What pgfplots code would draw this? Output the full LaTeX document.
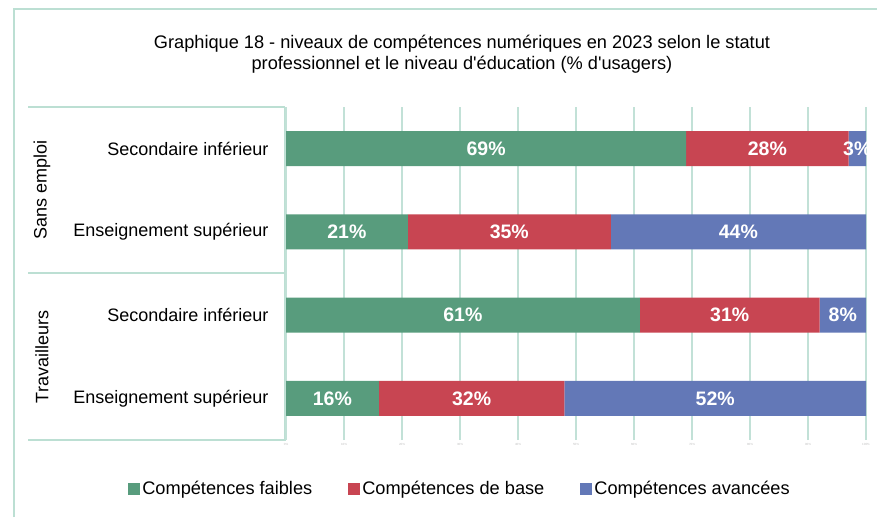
\documentclass[border=0pt]{standalone}
\usepackage{fontspec}
\setmainfont{Liberation Sans}[Ligatures=TeXOff]
\usepackage{pgfplots}
\pgfplotsset{compat=1.18}
\usepackage{pgfplotstable}

\definecolor{cfaible}{HTML}{589C7D}
\definecolor{cbase}{HTML}{C84552}
\definecolor{cavance}{HTML}{6378B7}
\definecolor{frame}{HTML}{BCDFD3}
\definecolor{gridc}{HTML}{C2E1D7}

% y: 3 = top row
\pgfplotstableread{
y faible base avance
3 69 28 3
2 21 35 44
1 61 31 8
0 16 32 52
}\competences

\begin{document}
\begin{tikzpicture}
\path[use as bounding box] (0,0) rectangle (877pt,517pt);

% outer frame (top and left visible)
\draw[frame, line width=2pt] (14pt,0pt) -- (14pt,508pt) -- (877pt,508pt);

% title
\node[align=center, font=\fontsize{18.2}{21}\selectfont] at (462pt,463pt)
  {Graphique 18 - niveaux de compétences numériques en 2023 selon le statut\\
   professionnel et le niveau d'éducation (\% d'usagers)};

% category table lines
\draw[frame, line width=1.5pt] (28pt,410pt) -- (285pt,410pt);
\draw[frame, line width=1.5pt] (28pt,244pt) -- (285pt,244pt);
\draw[frame, line width=1.5pt] (28pt,77pt) -- (285pt,77pt) -- (285pt,410pt);

% group labels
\node[rotate=90, font=\fontsize{18}{20}\selectfont] at (42pt,327pt) {Sans emploi};
\node[rotate=90, font=\fontsize{18}{20}\selectfont] at (42pt,160pt) {Travailleurs};

\begin{axis}[
    at={(286pt,77pt)}, anchor=south west,
    scale only axis, width=580pt, height=333pt,
    xbar stacked, bar width=35pt,
    xmin=0, xmax=100, ymin=-0.5, ymax=3.5,
    axis line style={draw=none},
    xtick={0,10,...,100},
    xticklabel={\pgfmathprintnumber{\tick}\%},
    xticklabel style={font=\fontsize{3}{3}\selectfont, text=gray!50},
    xmajorgrids, grid style={gridc, line width=1.3pt},
    major tick length=0pt,
    ytick={0,1,2,3},
    yticklabels={Enseignement supérieur, Secondaire inférieur, Enseignement supérieur, Secondaire inférieur},
    yticklabel style={font=\fontsize{18}{20}\selectfont, xshift=-14pt},
    /pgf/number format/assume math mode=true,
    visualization depends on={rawx \as \rawx},
    nodes near coords={\pgfmathprintnumber{\rawx}\%},
    every node near coord/.append style={anchor=center, text=white,
        font=\bfseries\fontsize{19.5}{20}\selectfont},
    legend columns=3,
    legend style={draw=none, at={(0.3,-0.147)}, anchor=center,
        font=\fontsize{18.2}{20}\selectfont,
        /tikz/every even column/.append style={column sep=34pt}},
    legend image code/.code={\fill[#1] (0pt,-6pt) rectangle (12pt,6pt);},
]
\addplot[fill=cfaible, draw=none] table[x=faible, y=y] {\competences};
\addlegendentry{Compétences faibles}
\addplot[fill=cbase, draw=none] table[x=base, y=y] {\competences};
\addlegendentry{Compétences de base}
\addplot[fill=cavance, draw=none] table[x=avance, y=y] {\competences};
\addlegendentry{Compétences avancées}
\end{axis}
\end{tikzpicture}
\end{document}
